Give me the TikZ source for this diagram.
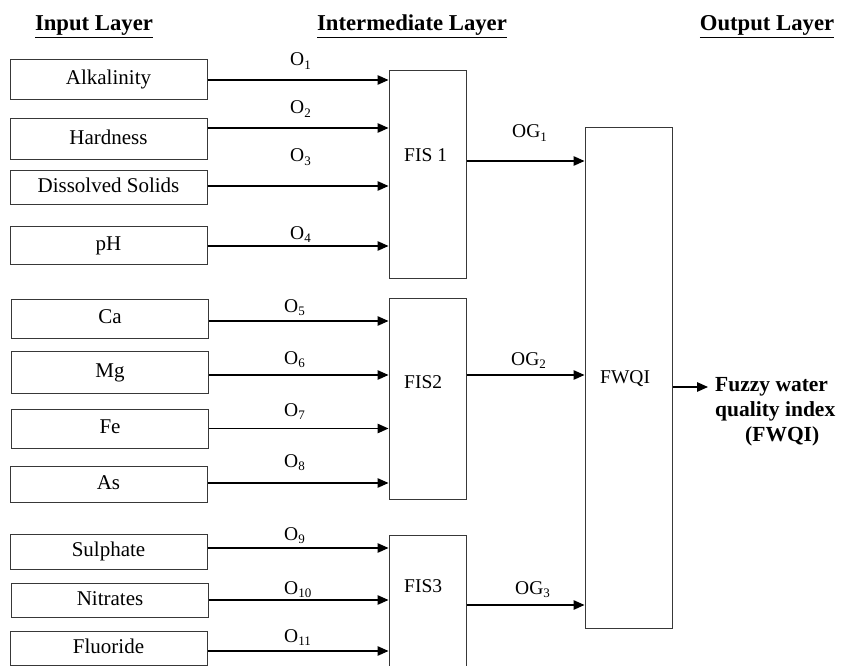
\documentclass[tikz,border=0pt]{standalone}
\usepackage{fontspec}
\setmainfont{Liberation Serif}
\usetikzlibrary{arrows.meta}
\definecolor{boxline}{HTML}{383838}
\newcommand\subn[1]{\raisebox{-3.5pt}{\fontsize{13}{14}\selectfont #1}}
\tikzset{
  inbox/.style={draw=boxline, line width=1pt, minimum width=197pt, inner sep=0pt,
    font=\fontsize{21}{24}\selectfont, text height=14pt, text depth=4pt},
  fisbox/.style={draw=boxline, line width=1pt, minimum width=77pt, inner sep=0pt},
  arr/.style={line width=1.4pt, -{Triangle[length=11pt,width=9.5pt]}},
  olbl/.style={anchor=base west, inner sep=0pt, font=\fontsize{19.5}{22}\selectfont},
  head/.style={anchor=base, inner sep=0pt, font=\fontsize{22.7}{26}\selectfont\bfseries}
}
\begin{document}
\begin{tikzpicture}[x=1pt,y=-1pt]
\useasboundingbox (0,0) rectangle (841,666);
% headings
\node[head] (h1) at (94,31) {\underline{Input Layer}};
\node[head] (h2) at (412,31) {\underline{Intermediate Layer}};
\node[head] (h3) at (767,31) {\underline{Output Layer}};
% input boxes
\node[inbox, minimum height=40pt] (alk) at (108.5,80) {Alkalinity};
\node[inbox, minimum height=41pt] (hard) at (108.5,139.5) {Hardness};
\node[inbox, minimum height=33pt] (diss) at (108.5,187.5) {Dissolved Solids};
\node[inbox, minimum height=38pt] (ph) at (108.5,245) {pH};
\node[inbox, minimum height=39pt] (ca) at (110,318.5) {Ca};
\node[inbox, minimum height=42pt] (mg) at (110,372) {Mg};
\node[inbox, minimum height=39pt] (fe) at (110,428.5) {Fe};
\node[inbox, minimum height=36pt] (as) at (108.5,484) {As};
\node[inbox, minimum height=35pt] (sul) at (108.5,551.5) {Sulphate};
\node[inbox, minimum height=34pt] (nit) at (110,600) {Nitrates};
\node[inbox, minimum height=34pt] (flu) at (108.5,648) {Fluoride};
% FIS boxes
\node[fisbox, minimum height=207pt] (fis1) at (427.5,174.5) {};
\node[fisbox, minimum height=201pt] (fis2) at (427.5,398.5) {};
\node[fisbox, minimum height=185pt] (fis3) at (427.5,627.5) {};
\node[olbl] (fis1t) at (404,162) {FIS 1};
\node[olbl] (fis2t) at (404,388) {FIS2};
\node[olbl] (fis3t) at (404,592) {FIS3};
% FWQI box
\node[fisbox, minimum width=87pt, minimum height=500pt] (fwqi) at (628.5,378) {};
\node[olbl] (fwqit) at (600,383) {FWQI};
% output text
\node[anchor=north west, inner sep=0pt, align=left,
      font=\fontsize{21.5}{25}\selectfont\bfseries] (out) at (715,377)
  {Fuzzy water\\quality index\\\hspace*{30pt}(FWQI)};
% input arrows
\draw[arr] (alk.east) -- (alk.east -| fis1.west);
\draw[arr] ([yshift=11.5pt]hard.east) -- ([yshift=11.5pt]hard.east -| fis1.west);
\draw[arr] ([yshift=1.5pt]diss.east) -- ([yshift=1.5pt]diss.east -| fis1.west);
\draw[arr] ([yshift=-1pt]ph.east) -- ([yshift=-1pt]ph.east -| fis1.west);
\draw[arr] ([yshift=-2.5pt]ca.east) -- ([yshift=-2.5pt]ca.east -| fis2.west);
\draw[arr] ([yshift=-3pt]mg.east) -- ([yshift=-3pt]mg.east -| fis2.west);
\draw[arr] (fe.east) -- (fe.east -| fis2.west);
\draw[arr] ([yshift=1pt]as.east) -- ([yshift=1pt]as.east -| fis2.west);
\draw[arr] ([yshift=3.5pt]sul.east) -- ([yshift=3.5pt]sul.east -| fis3.west);
\draw[arr] (nit.east) -- (nit.east -| fis3.west);
\draw[arr] ([yshift=-3pt]flu.east) -- ([yshift=-3pt]flu.east -| fis3.west);
% input labels
\node[olbl] (o1) at (290,66) {O\subn{1}};
\node[olbl] (o2) at (290,114) {O\subn{2}};
\node[olbl] (o3) at (290,162) {O\subn{3}};
\node[olbl] (o4) at (290,239) {O\subn{4}};
\node[olbl] (o5) at (284,312) {O\subn{5}};
\node[olbl] (o6) at (284,364) {O\subn{6}};
\node[olbl] (o7) at (284,416) {O\subn{7}};
\node[olbl] (o8) at (284,467) {O\subn{8}};
\node[olbl] (o9) at (284,540) {O\subn{9}};
\node[olbl] (o10) at (284,594) {O\subn{10}};
\node[olbl] (o11) at (284,642) {O\subn{11}};
% intermediate arrows
\draw[arr] ([yshift=13.5pt]fis1.east) -- ([yshift=13.5pt]fis1.east -| fwqi.west);
\draw[arr] ([yshift=23.5pt]fis2.east) -- ([yshift=23.5pt]fis2.east -| fwqi.west);
\draw[arr] ([yshift=22.5pt]fis3.east) -- ([yshift=22.5pt]fis3.east -| fwqi.west);
\node[olbl] (og1) at (512,138) {OG\subn{1}};
\node[olbl] (og2) at (511,365) {OG\subn{2}};
\node[olbl] (og3) at (515,594) {OG\subn{3}};
% output arrow
\draw[arr, shorten >=7pt] ([yshift=-9pt]fwqi.east) -- ([yshift=-9pt]fwqi.east -| out.west);
\end{tikzpicture}
\end{document}
